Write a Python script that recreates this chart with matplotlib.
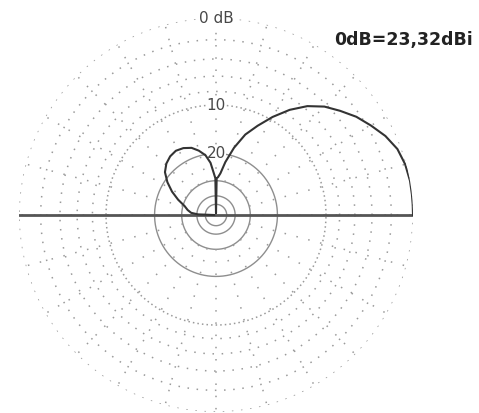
import numpy as np
import matplotlib.pyplot as plt

# elevation pattern (degrees, dB relative to max)
elev_deg = [0, 3, 6, 10, 15, 20, 25, 30, 35, 40, 45, 50, 55, 60, 65, 70, 75, 80, 84, 87, 89, 90,
            91, 93, 96, 100, 105, 110, 116, 122, 128, 134, 140, 146, 152, 158, 164, 170, 175, 178, 180]
gain_db = [0, 0, 0, 0, -0.1, -0.35, -0.9, -1.65, -2.4, -3.35, -4.3, -5.6, -7.35, -9.5, -11.9,
           -14.3, -17.85, -22.3, -26.6, -28.3, -28.8, -80,
           -28.8, -26.6, -22.7, -20.2, -18.6, -17.4, -16.7, -16.4, -16.7, -17.4, -18.6, -20.8,
           -23.6, -27.0, -30.8, -33.0, -35.5, -41, -80]

dotted_rings_db = [0, -2, -4, -6, -8]
dense_ring_db = [-10]
solid_rings_db = [-20, -30, -40, -50]
spoke_deg = list(range(0, 360, 15))
ring_labels = ["0 dB", "10", "20"]
ring_label_db = [0, -10, -20]
ref_text = "0dB=23,32dBi"


def arrl(db):
    # ARRL log-periodic scale
    return 0.89 ** (-np.asarray(db, dtype=float) / 2)


fig = plt.figure(figsize=(4.79, 4.13), dpi=100)
ax = fig.add_axes([0.0397, 0.0024, 0.8225, 0.954], projection="polar")
ax.set_ylim(0, 1)
ax.set_xticks([])
ax.set_yticks([])
ax.grid(False)
ax.spines["polar"].set_visible(False)

full = np.linspace(0, 2 * np.pi, 721)
grid_c = "#9a9a9a"
for db in dotted_rings_db:
    ax.plot(full, np.full_like(full, arrl(db)), color=grid_c, lw=1.1, ls=(0, (1, 5)))
for db in dense_ring_db:
    ax.plot(full, np.full_like(full, arrl(db)), color=grid_c, lw=1.1, ls=(0, (1, 2)))
for db in solid_rings_db:
    ax.plot(full, np.full_like(full, arrl(db)), color="#8e8e8e", lw=1.0)
for a in spoke_deg:
    t = np.deg2rad(a)
    ax.plot([t, t], [arrl(-30), 1], color=grid_c, lw=1.1, ls=(0, (1, 7)))

for lab, db in zip(ring_labels, ring_label_db):
    ax.text(np.pi / 2, arrl(db), lab, ha="center", va="center", fontsize=11, zorder=2.5,
            color="#484848", bbox=dict(facecolor="white", edgecolor="none", pad=0.3))

# horizon line
ax.plot([np.pi, np.pi, 0, 0], [1, 0, 0, 1], color="#555555", lw=2, zorder=3)

ax.plot(np.deg2rad(elev_deg), arrl(gain_db), color="#333333", lw=1.5, zorder=3)

fig.text(0.987, 0.903, ref_text, ha="right", va="center", fontsize=12.5,
         fontweight="bold", color="#222222")

fig.savefig("out.png", dpi=100)
